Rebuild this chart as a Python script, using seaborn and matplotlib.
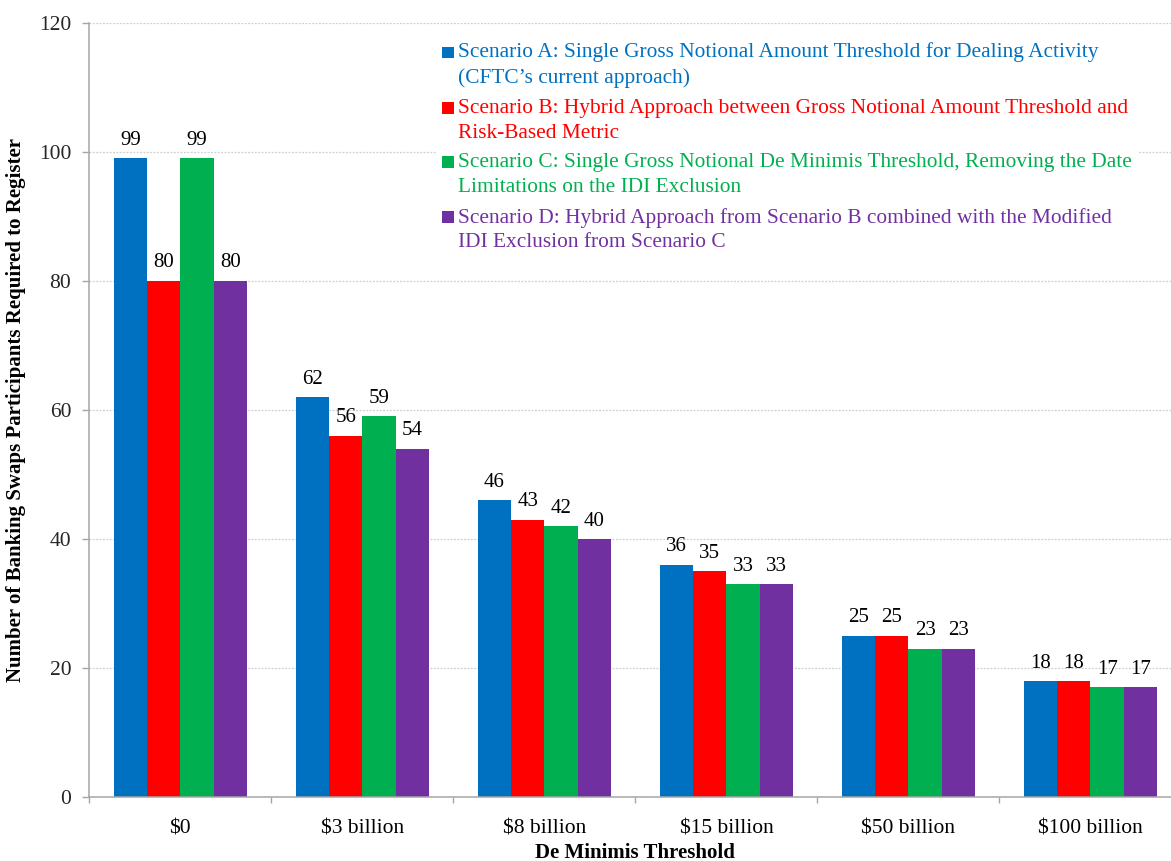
import numpy as np
import pandas as pd
import matplotlib
matplotlib.use("Agg")
import matplotlib.pyplot as plt
import seaborn as sns
from matplotlib.patches import Rectangle
from matplotlib.legend_handler import HandlerBase
from matplotlib.ticker import FixedLocator

# ---- data ----
categories = ["$0", "$3 billion", "$8 billion", "$15 billion", "$50 billion", "$100 billion"]
scenario_labels = [
    "Scenario A: Single Gross Notional Amount Threshold for Dealing Activity\n(CFTC\u2019s current approach)",
    "Scenario B: Hybrid Approach between Gross Notional Amount Threshold and\nRisk-Based Metric",
    "Scenario C: Single Gross Notional De Minimis Threshold, Removing the Date\nLimitations on the IDI Exclusion",
    "Scenario D: Hybrid Approach from Scenario B combined with the Modified\nIDI Exclusion from Scenario C",
]
scenario_a = [99, 62, 46, 36, 25, 18]
scenario_b = [80, 56, 43, 35, 25, 18]
scenario_c = [99, 59, 42, 33, 23, 17]
scenario_d = [80, 54, 40, 33, 23, 17]
colors = ["#0070C0", "#FF0000", "#00B050", "#7030A0"]
y_ticks = [0, 20, 40, 60, 80, 100, 120]

series = [scenario_a, scenario_b, scenario_c, scenario_d]
rows = []
for lab, vals in zip(scenario_labels, series):
    for cat, v in zip(categories, vals):
        rows.append({"Threshold": cat, "Count": v, "Scenario": lab})
df = pd.DataFrame(rows)

sns.set_theme(style="white")
plt.rcParams["font.family"] = ["Liberation Serif", "DejaVu Serif"]

W, H = 1171, 861
fig = plt.figure(figsize=(W / 100, H / 100), dpi=100)
ax_left, ax_right, ax_top, ax_bottom = 89.3, 1181.5, 22.7, 797.0
ax = fig.add_axes([ax_left / W, 1 - ax_bottom / H, (ax_right - ax_left) / W, (ax_bottom - ax_top) / H])

sns.barplot(data=df, x="Threshold", y="Count", hue="Scenario", order=categories,
            hue_order=scenario_labels, palette=colors, width=0.732, gap=0,
            saturation=1, linewidth=0, dodge=True, errorbar=None, ax=ax, legend=False)

for cont in ax.containers:
    ax.bar_label(cont, fontsize=15, padding=6, color="black")

ax.set_xlim(-0.5, len(categories) - 0.5)
ax.set_ylim(0, 120)
ax.set_yticks(y_ticks)
ax.set_yticklabels([str(t) for t in y_ticks], fontsize=15.5)
ax.set_xticks(range(len(categories)))
ax.set_xticklabels(categories, fontsize=15.5)
ax.xaxis.set_minor_locator(FixedLocator(np.arange(-0.5, len(categories), 1.0)))
ax.tick_params(axis="x", which="major", length=0, pad=16, colors="black")
ax.tick_params(axis="x", which="minor", length=4.5, width=1, color="#A6A6A6", direction="out", bottom=True)
ax.tick_params(axis="y", which="major", length=5, width=1, color="#A6A6A6", direction="out", pad=8, left=True)

ax.yaxis.grid(True, color="#CFCFCF", linestyle=(0, (1.5, 1.2)), linewidth=0.9)
ax.xaxis.grid(False)
ax.set_axisbelow(True)
for s in ["top", "right"]:
    ax.spines[s].set_visible(False)
for s in ["left", "bottom"]:
    ax.spines[s].set_color("#A6A6A6")
    ax.spines[s].set_linewidth(1.1)

ax.set_xlabel("De Minimis Threshold", fontsize=15, fontweight="bold", color="black")
ax.xaxis.set_label_coords(0.5, -(843 - ax_bottom) / (ax_bottom - ax_top))
ax.set_ylabel("Number of Banking Swaps Participants Required to Register", fontsize=15,
              fontweight="bold", color="black")
ax.yaxis.set_label_coords(-(ax_left - 26) / (ax_right - ax_left), 0.5)


class SquareHandler(HandlerBase):
    def __init__(self, size, dy, **kw):
        super().__init__(**kw)
        self.size = size
        self.dy = dy

    def create_artists(self, legend, orig_handle, xdescent, ydescent, width, height, fontsize, trans):
        r = Rectangle((-xdescent, -ydescent + self.dy), self.size, self.size,
                      facecolor=orig_handle.get_facecolor(), edgecolor="none", transform=trans)
        return [r]


fs_leg = 15.4
handles = [Rectangle((0, 0), 1, 1, facecolor=c) for c in colors]
sq = 8.5
handler = SquareHandler(size=sq, dy=10.0)
leg = ax.legend(handles, scenario_labels, loc="upper left",
                bbox_to_anchor=(436 / W, 1 - 36 / H), bbox_transform=fig.transFigure,
                borderaxespad=0, borderpad=0.3, fontsize=fs_leg, handlelength=sq / fs_leg,
                handletextpad=0.2, labelspacing=0.5, frameon=True, fancybox=False,
                framealpha=1, facecolor="white", edgecolor="none",
                handler_map={Rectangle: handler})
for t, c in zip(leg.get_texts(), colors):
    t.set_color(c)
    t.set_linespacing(1.41)

fig.savefig("out.png", dpi=100)
